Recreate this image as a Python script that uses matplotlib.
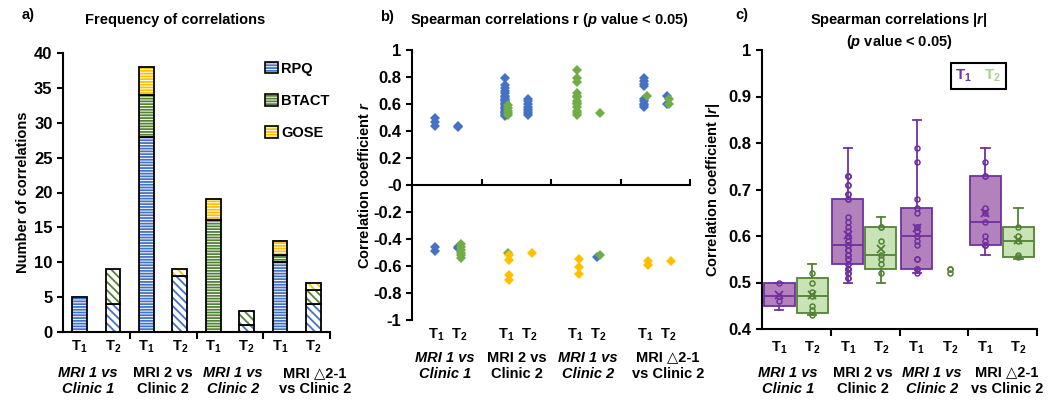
import numpy as np
import matplotlib
matplotlib.use('Agg')
import matplotlib.pyplot as plt
from matplotlib.patches import Patch
from matplotlib.lines import Line2D
from matplotlib.ticker import FuncFormatter
from matplotlib.legend_handler import HandlerTuple

# ---- data ----
groups = ['MRI 1 vs\nClinic 1', 'MRI 2 vs\nClinic 2', 'MRI 1 vs\nClinic 2', 'MRI \u25b32-1\nvs Clinic 2']
group_italic = [True, False, True, False]
times = ['T$_1$', 'T$_2$']
measures = ['RPQ', 'BTACT', 'GOSE']

# a) number of significant correlations per bar (G1T1, G1T2, G2T1, ...)
rpq_n = [5, 4, 28, 8, 0, 1, 10, 4]
btact_n = [0, 5, 6, 0, 16, 2, 1, 2]
gose_n = [0, 0, 4, 1, 3, 0, 2, 1]

# b) spearman r per bar
rpq_r = [
    [0.50, 0.47, 0.44, -0.46, -0.49],
    [0.43, 0.44, -0.46, -0.47],
    [0.79, 0.74, 0.72, 0.70, 0.68, 0.66, 0.65, 0.64, 0.63, 0.62, 0.61, 0.60,
     0.59, 0.58, 0.57, 0.56, 0.55, 0.54, 0.53, 0.52, 0.51],
    [0.64, 0.62, 0.60, 0.58, 0.56, 0.55, 0.53, 0.52],
    [],
    [-0.53],
    [0.79, 0.77, 0.75, 0.73, 0.64, 0.62, 0.60, 0.59, 0.58],
    [0.66, 0.60],
]
btact_r = [
    [],
    [-0.44, -0.46, -0.48, -0.50, -0.52, -0.54],
    [0.59, 0.57, 0.55, 0.53, 0.52, -0.50],
    [],
    [0.85, 0.79, 0.76, 0.68, 0.66, 0.65, 0.62, 0.61, 0.60, 0.58, 0.55, 0.53, 0.52],
    [0.53, -0.52],
    [0.66],
    [0.64, 0.60],
]
gose_r = [
    [],
    [],
    [-0.52, -0.555, -0.67, -0.705],
    [-0.50],
    [-0.55, -0.61, -0.66],
    [],
    [-0.56, -0.59],
    [-0.56],
]

# c) |r| per group, T1 and T2
abs_t1 = [
    [0.44, 0.46, 0.47, 0.50, 0.50],
    [0.50, 0.51, 0.51, 0.52, 0.52, 0.53, 0.53, 0.53, 0.54, 0.54,
     0.55, 0.55, 0.56, 0.56, 0.57, 0.57, 0.57, 0.58, 0.58, 0.58,
     0.59, 0.59, 0.60, 0.60, 0.61, 0.62, 0.63, 0.64, 0.68, 0.68,
     0.69, 0.69, 0.71, 0.71, 0.73, 0.73, 0.73, 0.79],
    [0.52, 0.52, 0.53, 0.53, 0.53, 0.55, 0.55, 0.58, 0.59, 0.60,
     0.61, 0.62, 0.62, 0.65, 0.66, 0.68, 0.76, 0.79, 0.85],
    [0.56, 0.58, 0.58, 0.58, 0.59, 0.60, 0.63, 0.65, 0.66, 0.73, 0.73, 0.76, 0.79],
]
abs_t2 = [
    [0.43, 0.43, 0.44, 0.45, 0.47, 0.48, 0.50, 0.52, 0.54],
    [0.50, 0.52, 0.54, 0.55, 0.56, 0.59, 0.62, 0.62, 0.64],
    [0.52, 0.53, 0.53],
    [0.55, 0.555, 0.56, 0.59, 0.60, 0.62, 0.66],
]

# ---- style ----
plt.rcParams['font.family'] = ['Liberation Sans', 'DejaVu Sans']
plt.rcParams['font.size'] = 10
plt.rcParams['font.weight'] = 'bold'
plt.rcParams['axes.labelweight'] = 'bold'
plt.rcParams['axes.unicode_minus'] = False
plt.rcParams['mathtext.fontset'] = 'custom'
plt.rcParams['mathtext.rm'] = 'Liberation Sans:bold'
plt.rcParams['mathtext.it'] = 'Liberation Sans:italic:bold'
plt.rcParams['mathtext.bf'] = 'Liberation Sans:bold'
plt.rcParams['hatch.linewidth'] = 1.3
plt.rcParams['axes.linewidth'] = 1.5

blue, green, yellow = '#4472C4', '#70AD47', '#FFC000'
bar_green = '#548235'
purple, purple_face = '#7030A0', '#B381BC'
dgreen, green_face = '#548235', '#C8E3B5'
meas_colors = [blue, bar_green, yellow]

W, H = 1050, 409
fig = plt.figure(figsize=(W / 100, H / 100), dpi=100)
axa = fig.add_axes([63 / W, 1 - 332 / H, 267 / W, 279 / H])
axb = fig.add_axes([412 / W, 1 - 320 / H, 278 / W, 270 / H])
axc = fig.add_axes([762 / W, 1 - 329 / H, 275 / W, 279 / H])

for ax in (axa, axb, axc):
    ax.spines['top'].set_visible(False)
    ax.spines['right'].set_visible(False)
    ax.tick_params(axis='y', direction='out', length=4, width=1.5, labelsize=12)
    ax.tick_params(axis='x', width=1.5)


def group_labels(ax, xs_g, xs_t, y_t, y_g):
    tr = ax.get_xaxis_transform()
    for i, x in enumerate(xs_t):
        ax.text(x, y_t, times[i % 2], transform=tr, ha='center', va='center', fontsize=10.5)
    for g, lab in enumerate(groups):
        ax.text(xs_g[g], y_g, lab, transform=tr, ha='center', va='center', fontsize=10.5,
                linespacing=1.25, fontstyle='italic' if group_italic[g] else 'normal')


# ---- a) stacked bars ----
xb = np.arange(8)
hatches = ['------' if i % 2 == 0 else '\\\\\\\\' for i in xb]
bottom = np.zeros(8)
for counts, col in zip([rpq_n, btact_n, gose_n], meas_colors):
    counts = np.array(counts)
    for i in xb:
        if counts[i] == 0:
            continue
        axa.bar(i, counts[i], 0.44, bottom=bottom[i], color='white', edgecolor=col,
                hatch=hatches[i], linewidth=0)
        axa.bar(i, counts[i], 0.44, bottom=bottom[i], fill=False, edgecolor='black',
                linewidth=1.3)
    bottom += counts

axa.set_xlim(-0.5, 7.5)
axa.set_ylim(0, 40)
axa.set_yticks(np.arange(0, 41, 5))
axa.set_xticks([1.5, 3.5, 5.5, 7.5])
axa.set_xticklabels([])
axa.tick_params(axis='x', direction='out', length=5)
axa.set_ylabel('Number of correlations', fontsize=10.5, labelpad=3)
group_labels(axa, [0.25, 2.49, 4.59, 7.05], xb, -0.054, -0.176)

leg_handles = [(Patch(facecolor='white', edgecolor=c, hatch='------', linewidth=0),
                Patch(fill=False, edgecolor='black', linewidth=1.2)) for c in meas_colors]
axa.legend(leg_handles, measures, handler_map={tuple: HandlerTuple(ndivide=1)},
           loc='upper left', bbox_to_anchor=(0.73, 0.995), frameon=False,
           handlelength=0.85, handleheight=0.85, handletextpad=0.25,
           labelspacing=1.25, fontsize=10.5, borderpad=0)

# ---- b) spearman r ----
pos_b = [0.35, 0.68]
offs = [-0.015, 0.025, 0.05]
for m, (vals, col) in enumerate(zip([rpq_r, btact_r, gose_r], [blue, green, yellow])):
    for i, v in enumerate(vals):
        if not v:
            continue
        g, t = divmod(i, 2)
        axb.plot(np.full(len(v), g + pos_b[t] + offs[m]), v, 'D', color=col,
                 ms=5, mew=0, linestyle='none', zorder=3 + m)

axb.set_xlim(0, 4)
axb.set_ylim(-1, 1)
axb.set_yticks(np.round(np.arange(-1, 1.01, 0.2), 1))
axb.yaxis.set_major_formatter(FuncFormatter(lambda v, p: '%g' % round(v, 1)))
axb.spines['bottom'].set_position(('data', 0))
axb.set_xticks([1, 2, 3, 4])
axb.set_xticklabels([])
axb.tick_params(axis='x', direction='in', length=4)
axb.set_ylabel('Correlation coefficient $r$', fontsize=10.5, labelpad=1)
xt_b = [g + p for g in range(4) for p in pos_b]
group_labels(axb, [0.47, 1.51, 2.53, 3.68], xt_b, -0.056, -0.170)

# ---- c) |r| box plots ----
pos_c = [0.25, 0.73]


def excel_stats(vals):
    v = np.sort(np.array(vals))
    q1, med, q3 = np.percentile(v, [25, 50, 75], method='weibull')
    iqr = q3 - q1
    lo = v[v >= q1 - 1.5 * iqr].min()
    hi = v[v <= q3 + 1.5 * iqr].max()
    return dict(med=med, q1=q1, q3=q3, whislo=lo, whishi=hi, mean=v.mean(), fliers=[])


for t, (data, ec, fc) in enumerate([(abs_t1, purple, purple_face), (abs_t2, dgreen, green_face)]):
    for g, vals in enumerate(data):
        x0 = g + pos_c[t]
        v = np.sort(np.array(vals))
        if len(v) > 3:
            axc.bxp([excel_stats(v)], positions=[x0], widths=0.45, capwidths=0.12,
                    patch_artist=True, showmeans=True, showfliers=False,
                    boxprops=dict(facecolor=fc, edgecolor=ec, linewidth=1.3),
                    medianprops=dict(color=ec, linewidth=1.3),
                    whiskerprops=dict(color=ec, linewidth=1.3),
                    capprops=dict(color=ec, linewidth=1.3),
                    meanprops=dict(marker='x', markeredgecolor=ec, markersize=6,
                                   markeredgewidth=1.3))
            inner = v[1:-1]
        else:
            inner = v
        axc.plot(np.full(len(inner), x0), inner, 'o', ms=3.6, mfc='none', mec=ec,
                 mew=1.1, linestyle='none', zorder=4)

axc.set_xlim(0, 4)
axc.set_ylim(0.4, 1)
axc.set_yticks(np.round(np.arange(0.4, 1.01, 0.1), 1))
axc.yaxis.set_major_formatter(FuncFormatter(lambda v, p: '%g' % round(v, 1)))
axc.set_xticks([1, 2, 3, 4])
axc.set_xticklabels([])
axc.tick_params(axis='x', direction='out', length=5)
axc.set_ylabel('Correlation coefficient |$r$|', fontsize=10.5, labelpad=5)
xt_c = [g + p for g in range(4) for p in pos_c]
group_labels(axc, [0.38, 1.47, 2.47, 3.56], xt_c, -0.068, -0.186)

leg = axc.legend([Line2D([], [], linestyle='none')] * 2, times, labelcolor=[purple, '#A9D18E'],
                 ncol=2, loc='upper right', bbox_to_anchor=(0.887, 0.953), borderaxespad=0,
                 handlelength=0, handletextpad=0, columnspacing=0.8, borderpad=0.3,
                 fontsize=11, fancybox=False, edgecolor='black', framealpha=1)
leg.get_frame().set_linewidth(1.5)

# ---- titles ----
fig.text(22 / W, 1 - 15 / H, 'a)', ha='left', va='center', fontsize=10.5)
fig.text(175 / W, 1 - 20 / H, 'Frequency of correlations', ha='center', va='center', fontsize=10.5)
fig.text(380 / W, 1 - 17 / H, 'b)', ha='left', va='center', fontsize=10.5)
fig.text(549 / W, 1 - 20 / H, 'Spearman correlations r ($p$ value < 0.05)', ha='center',
         va='center', fontsize=10.5)
fig.text(735 / W, 1 - 15 / H, 'c)', ha='left', va='center', fontsize=10.5)
fig.text(899 / W, 1 - 31 / H, 'Spearman correlations |$r$|\n($p$ value < 0.05)', ha='center',
         va='center', fontsize=10.5, linespacing=1.35)

fig.savefig('out.png', dpi=100)
